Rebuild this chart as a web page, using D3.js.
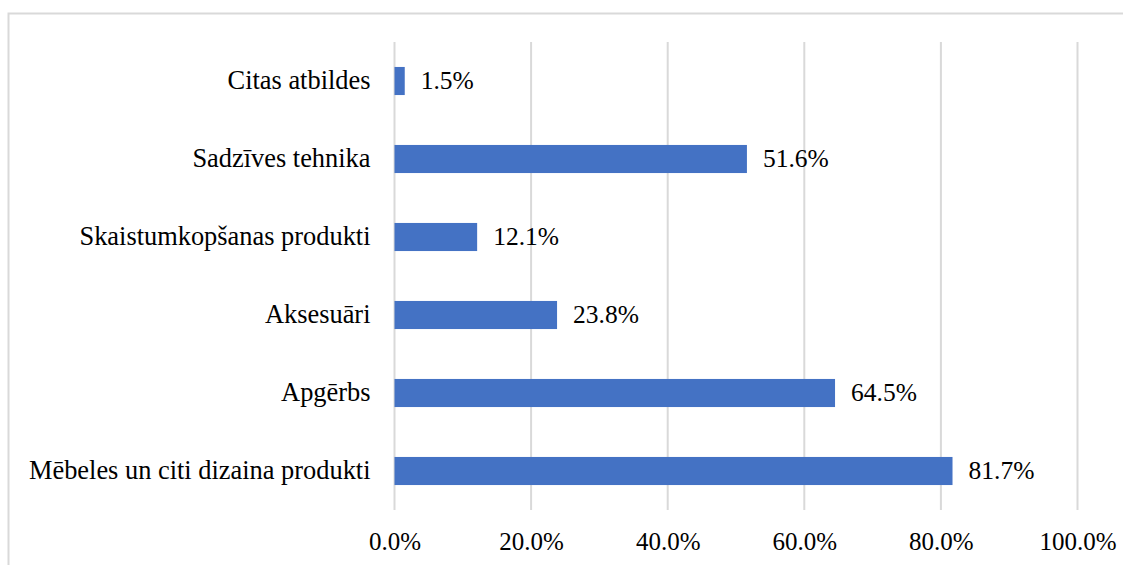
<!DOCTYPE html>
<html><head><meta charset="utf-8">
<script src="https://cdn.jsdelivr.net/npm/d3@7"></script>
<style>body{margin:0;background:#fff}svg{display:block}
svg text{font-family:"Liberation Serif","Times New Roman",Times,serif;fill:#000}</style>
</head><body>
<script>
const categories = ["Mēbeles un citi dizaina produkti","Apgērbs","Aksesuāri","Skaistumkopšanas produkti","Sadzīves tehnika","Citas atbildes"];
const values = [81.7, 64.5, 23.8, 12.1, 51.6, 1.5];
const tickValues = [0, 20, 40, 60, 80, 100];

const W = 1123, H = 565;
const svg = d3.select("body").append("svg").attr("width", W).attr("height", H);

// chart border
svg.append("rect").attr("x", 8.5).attr("y", 13.5).attr("width", 1200).attr("height", 600)
  .attr("fill", "none").attr("stroke", "#d9d9d9").attr("stroke-width", 2);

const x = d3.scaleLinear().domain([0, 100]).range([394.5, 1077.5]);
const y = d3.scaleBand().domain(categories.slice().reverse()).range([42, 510]).paddingInner(0.64).paddingOuter(0.32);

// gridlines
svg.append("g").selectAll("line").data(tickValues).join("line")
  .attr("x1", d => x(d)).attr("x2", d => x(d)).attr("y1", 42).attr("y2", 510)
  .attr("stroke", "#d9d9d9").attr("stroke-width", 2);

// bars
svg.append("g").selectAll("rect").data(categories).join("rect")
  .attr("x", x(0)).attr("y", d => y(d))
  .attr("width", (d, i) => x(values[i]) - x(0)).attr("height", y.bandwidth())
  .attr("fill", "#4472c4");

// value labels
svg.append("g").selectAll("text").data(categories).join("text")
  .attr("x", (d, i) => x(values[i]) + 16).attr("y", d => y(d) + y.bandwidth() / 2)
  .attr("dy", "0.33em").style("font-size", "25.5px")
  .text((d, i) => values[i].toFixed(1) + "%");

// category axis
const yAxis = d3.axisLeft(y).tickSize(0).tickPadding(24);
const ga = svg.append("g").attr("transform", `translate(${x(0)},0)`).call(yAxis);
ga.attr("font-family", null).attr("font-size", null);
ga.select(".domain").remove();
ga.selectAll("text").attr("dy", "0.31em").style("font-size", "26.4px");

// value axis
const xAxis = d3.axisBottom(x).tickValues(tickValues).tickSize(0).tickPadding(0).tickFormat(d => d.toFixed(1) + "%");
const gx = svg.append("g").attr("transform", `translate(0,${527})`).call(xAxis);
gx.attr("font-family", null).attr("font-size", null);
gx.select(".domain").remove();
gx.selectAll("text").attr("dy", "0.9em").style("font-size", "25px");
</script>
</body></html>
